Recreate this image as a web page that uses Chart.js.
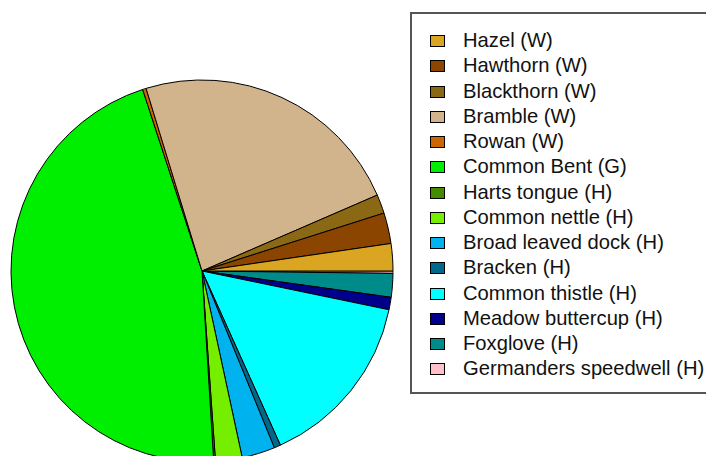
<!DOCTYPE html>
<html>
<head>
<meta charset="utf-8">
<script src="https://cdn.jsdelivr.net/npm/chart.js@4"></script>
<style>
  html, body { margin: 0; padding: 0; background: #fff; }
  #wrap { position: relative; width: 706px; height: 456px; overflow: hidden; }
  #chart { position: absolute; left: 9px; top: 78px; }
  #legend {
    position: absolute; left: 410px; top: 12px; width: 310px; height: 378px;
    border: 2px solid #555; box-sizing: content-box;
    font-family: "Liberation Sans", Arial, sans-serif; font-size: 20.2px; color: #111;
  }
  .row { position: absolute; left: 0; height: 25px; line-height: 25px; white-space: nowrap; }
  .sw { position: absolute; left: 18px; top: 6px; width: 13px; height: 10px; border: 1px solid #000; }
  .lab { position: absolute; left: 51px; top: -1px; }
</style>
</head>
<body>
<div id="wrap">
  <canvas id="chart" width="386" height="386"></canvas>
  <div id="legend"></div>
</div>
<script>
// species in plotting order (R style: counter-clockwise from 3 o'clock)
const species = ['Hazel (W)', 'Hawthorn (W)', 'Blackthorn (W)', 'Bramble (W)', 'Rowan (W)',
  'Common Bent (G)', 'Harts tongue (H)', 'Common nettle (H)', 'Broad leaved dock (H)',
  'Bracken (H)', 'Common thistle (H)', 'Meadow buttercup (H)', 'Foxglove (H)',
  'Germanders speedwell (H)'];
// % cover
const cover = [2.3, 2.6, 1.6, 23.2, 0.3, 45.9, 0.15, 2.25, 2.8, 0.55, 15.0, 1.05, 2.0, 0.2];
const colours = ['#DAA520', '#8B4500', '#8B6914', '#D2B48C', '#CD6600', '#00EE00', '#458B00',
  '#76EE00', '#00B2EE', '#00688B', '#00FFFF', '#00008B', '#008B8B', '#FFC0CB'];

// legend
const legend = document.getElementById('legend');
species.forEach((name, i) => {
  const row = document.createElement('div');
  row.className = 'row';
  row.style.top = (15 + i * 25.25) + 'px';
  row.innerHTML = '<span class="sw" style="background:' + colours[i] + '"></span><span class="lab">' + name + '</span>';
  legend.appendChild(row);
});

// chart.js draws clockwise from the top, so reverse and start at 3 o'clock
const rev = (a) => a.slice().reverse();

new Chart(document.getElementById('chart'), {
  type: 'pie',
  data: {
    labels: rev(species),
    datasets: [{
      data: rev(cover),
      backgroundColor: rev(colours),
      borderColor: '#000',
      borderWidth: 1,
    }],
  },
  options: {
    responsive: false,
    animation: false,
    rotation: 90,
    radius: 191,
    layout: { padding: 0 },
    events: [],
    plugins: {
      legend: { display: false },
      tooltip: { enabled: false },
    },
  },
});
</script>
</body>
</html>
